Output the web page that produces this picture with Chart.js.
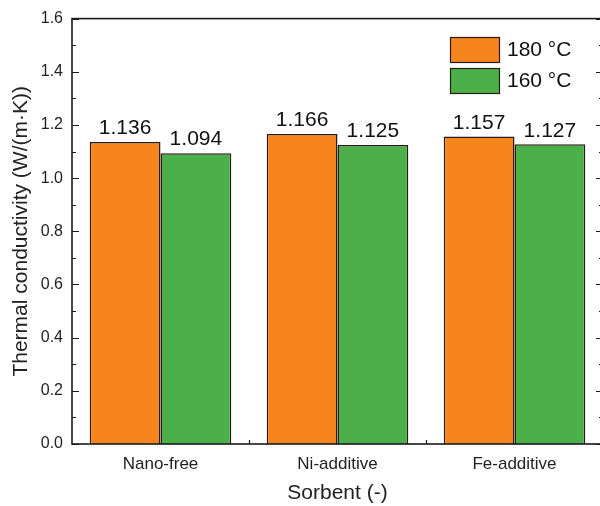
<!DOCTYPE html>
<html><head><meta charset="utf-8">
<script src="https://cdn.jsdelivr.net/npm/chart.js@4.4.1/dist/chart.umd.min.js"></script>
<style>html,body{margin:0;padding:0;overflow:hidden;background:#fff;}#wrap{width:606px;height:506px;}</style>
</head><body><div id="wrap"><canvas id="c" width="606" height="506"></canvas></div>
<script>
const categories = ['Nano-free', 'Ni-additive', 'Fe-additive'];
const series180 = [1.136, 1.166, 1.157];
const series160 = [1.094, 1.125, 1.127];
const seriesLabels = ['180 \u00B0C', '160 \u00B0C'];
const yMin = 0, yMax = 1.6, yStep = 0.2, yMinorStep = 0.1;
const xTitle = 'Sorbent (-)';
const yTitle = 'Thermal conductivity (W/(m\u00B7K))';

const ORANGE = '#F7851D', GREEN = '#4CB04A', EDGE = '#2a1c14', AX = '#1a1a1a';
const FONT = 'Liberation Sans, Arial, sans-serif';

const decor = {
  id: 'decor',
  afterDatasetsDraw(chart) {
    const ctx = chart.ctx, a = chart.chartArea;
    const ys = chart.scales.y, xs = chart.scales.x;
    ctx.save();
    ctx.strokeStyle = AX; ctx.lineWidth = 1.6;
    ctx.strokeRect(a.left, a.top, a.right - a.left, a.bottom - a.top);
    ctx.lineWidth = 1.2;
    const n = Math.round((yMax - yMin) / yMinorStep);
    for (let i = 0; i <= n; i++) {
      const v = yMin + i * yMinorStep;
      const py = Math.round(ys.getPixelForValue(v)) + 0.5;
      const len = (i % 2 === 0) ? 7 : 4;
      ctx.beginPath();
      ctx.moveTo(a.left, py); ctx.lineTo(a.left + len, py);
      ctx.moveTo(a.right, py); ctx.lineTo(a.right - len, py);
      ctx.stroke();
    }
    for (let i = 0; i < categories.length - 1; i++) {
      const px = Math.round((xs.getPixelForValue(i) + xs.getPixelForValue(i + 1)) / 2) + 0.5;
      ctx.beginPath();
      ctx.moveTo(px, a.bottom); ctx.lineTo(px, a.bottom - 4);
      ctx.stroke();
    }
    // value labels
    ctx.fillStyle = '#111';
    ctx.font = '21px ' + FONT;
    ctx.textAlign = 'center'; ctx.textBaseline = 'bottom';
    chart.data.datasets.forEach((ds, di) => {
      const meta = chart.getDatasetMeta(di);
      meta.data.forEach((bar, i) => {
        ctx.fillText(ds.data[i].toFixed(3), bar.x, bar.y - 3);
      });
    });
    // legend
    const lx = 450, ly = 37, bw = 49, bh = 25, gap = 31;
    chart.data.datasets.forEach((ds, di) => {
      const y0 = ly + di * gap;
      ctx.fillStyle = ds.backgroundColor;
      ctx.fillRect(lx, y0, bw, bh);
      ctx.strokeStyle = EDGE; ctx.lineWidth = 1.2;
      ctx.strokeRect(lx + 0.5, y0 + 0.5, bw, bh);
      ctx.fillStyle = '#111';
      ctx.textAlign = 'left'; ctx.textBaseline = 'middle';
      ctx.font = '21px ' + FONT;
      ctx.fillText(ds.label, lx + 57, y0 + bh / 2 + 1);
    });
    ctx.restore();
  }
};

new Chart(document.getElementById('c'), {
  type: 'bar',
  data: {
    labels: categories,
    datasets: [
      { label: seriesLabels[0], data: series180, backgroundColor: ORANGE, borderColor: EDGE, borderWidth: 1.5, borderSkipped: 'start' },
      { label: seriesLabels[1], data: series160, backgroundColor: GREEN, borderColor: EDGE, borderWidth: 1.5, borderSkipped: 'start' }
    ]
  },
  options: {
    responsive: false, animation: false,
    layout: { padding: { top: 17, right: 3, left: 0, bottom: 0 } },
    datasets: { bar: { categoryPercentage: 0.8, barPercentage: 1.0 } },
    plugins: { legend: { display: false }, tooltip: { enabled: false } },
    scales: {
      x: {
        grid: { display: false, drawTicks: false },
        border: { display: false },
        ticks: { color: '#222', font: { family: FONT, size: 17 }, padding: 10 },
        title: { display: true, text: xTitle, color: '#222', font: { family: FONT, size: 21 }, padding: { top: 0, bottom: 0 } },
        afterFit(s) { s.height = 62; }
      },
      y: {
        min: yMin, max: yMax,
        grid: { display: false, drawTicks: false },
        border: { display: false },
        ticks: { stepSize: yStep, color: '#222', font: { family: FONT, size: 16 }, padding: 9,
                 callback: v => Number(v).toFixed(1) },
        title: { display: true, text: yTitle, color: '#222', font: { family: FONT, size: 21 }, padding: { top: 9, bottom: 0 } },
        afterFit(s) { s.width = 72; }
      }
    }
  },
  plugins: [decor]
});
</script></body></html>
